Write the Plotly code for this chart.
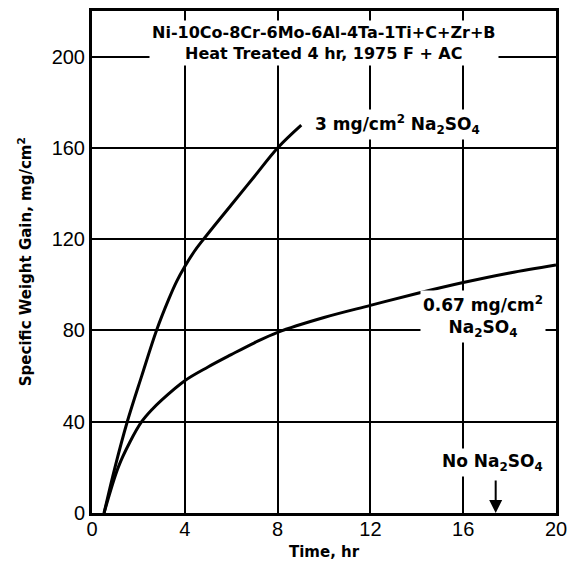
import plotly.graph_objects as go

# Data
t_3mg = [0.52, 0.99, 1.52, 2.14, 2.78, 3.3, 3.65, 4.0, 4.4, 4.77, 6.0, 7.0, 8.0, 9.02]
w_3mg = [0, 20, 40, 60, 80, 93.5, 101.5, 108, 114.5, 119.5, 135, 147.5, 160, 170]

t_067 = [0.52, 1.13, 1.63, 2.14, 2.6, 3.0, 4.0, 5.0, 6.0, 7.0, 8.0, 10, 12, 14, 16, 18, 20]
w_067 = [0, 20, 31, 40, 45.5, 49.5, 58, 64, 69.4, 74.6, 79.2, 85.7, 91.0, 96.2, 101.0, 105.2, 108.7]

x_ticks = [0, 4, 8, 12, 16, 20]
y_ticks = [0, 40, 80, 120, 160, 200]

no_salt_t = 17.4  # arrow marking "No Na2SO4"

BOLD = "DejaVu Sans"
REG = "Liberation Sans"

fig = go.Figure()
for tx, wy in ((t_3mg, w_3mg), (t_067, w_067)):
    fig.add_trace(go.Scatter(x=tx, y=wy, mode="lines",
                             line=dict(color="black", width=3, shape="spline", smoothing=1.0),
                             showlegend=False, hoverinfo="skip"))

lbl_font = dict(family=BOLD, size=17, color="black", weight="bold")

fig.add_annotation(x=10.0, y=206, xref="x", yref="y",
                   text="Ni-10Co-8Cr-6Mo-6Al-4Ta-1Ti+C+Zr+B<br>Heat Treated 4 hr, 1975 F + AC",
                   showarrow=False, bgcolor="white", borderpad=2,
                   xanchor="center", yanchor="middle",
                   font=dict(family=BOLD, size=16, color="black", weight="bold"))
fig.add_annotation(x=13.16, y=170.3, xref="x", yref="y",
                   text="3 mg/cm<sup>2</sup> Na<sub>2</sub>SO<sub>4</sub>",
                   xanchor="center", yanchor="middle",
                   showarrow=False, bgcolor="white", borderpad=2, font=lbl_font)
fig.add_annotation(x=16.86, y=86, xref="x", yref="y",
                   text="0.67 mg/cm<sup>2</sup><br>Na<sub>2</sub>SO<sub>4</sub>",
                   xanchor="center", yanchor="middle",
                   showarrow=False, bgcolor="white", borderpad=2, font=lbl_font)
fig.add_annotation(x=17.27, y=22.3, xref="x", yref="y",
                   text="No Na<sub>2</sub>SO<sub>4</sub>",
                   xanchor="center", yanchor="middle",
                   showarrow=False, bgcolor="white", borderpad=2, font=lbl_font)
fig.add_annotation(x=no_salt_t, y=0, xref="x", yref="y", text="",
                   showarrow=True, ax=0, ay=-34, arrowhead=2, arrowsize=1.3,
                   arrowwidth=2, arrowcolor="black")

# Axis titles
fig.add_annotation(x=-0.144, y=0.5, xref="paper", yref="paper", textangle=-90,
                   xanchor="center", yanchor="middle",
                   text="Specific Weight Gain, mg/cm<sup>2</sup>", showarrow=False,
                   font=dict(family=BOLD, size=15, color="black", weight="bold"))
fig.add_annotation(x=0.5, y=-0.077, xref="paper", yref="paper",
                   xanchor="center", yanchor="middle",
                   text="Time, hr", showarrow=False,
                   font=dict(family=BOLD, size=15, color="black", weight="bold"))

axis_common = dict(showline=True, mirror=True, linewidth=3, linecolor="black",
                   showgrid=True, gridcolor="black", gridwidth=2, zeroline=False,
                   ticks="", tickfont=dict(family=REG, size=20, color="black"))

fig.update_xaxes(range=[0, 20], tickvals=x_ticks, ticktext=[str(v) for v in x_ticks],
                 ticklabelstandoff=-4, **axis_common)
fig.update_yaxes(range=[0, 220], tickvals=y_ticks, ticktext=[str(v) for v in y_ticks],
                 **axis_common)

fig.update_layout(width=575, height=566, margin=dict(l=92, r=18, t=8, b=53),
                  paper_bgcolor="white", plot_bgcolor="white")

fig.write_html("out.html")
